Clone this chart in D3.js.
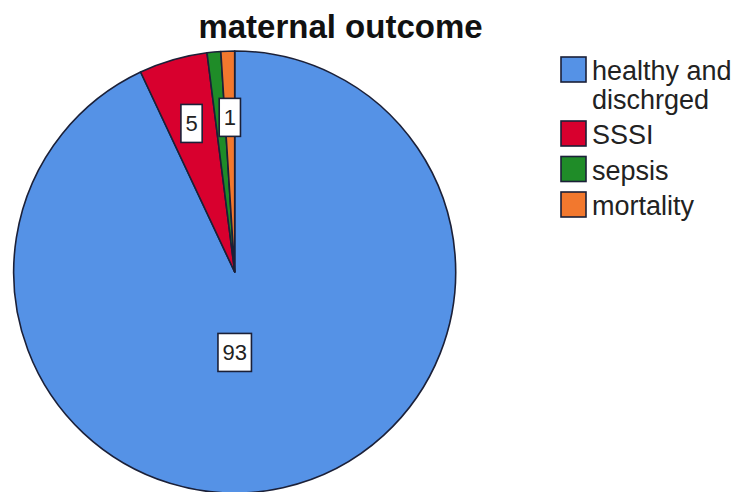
<!DOCTYPE html>
<html>
<head>
<meta charset="utf-8">
<script src="https://cdn.jsdelivr.net/npm/d3@7"></script>
<style>
  html, body { margin: 0; padding: 0; background: #fff; }
  svg { display: block; }
</style>
</head>
<body>
<svg id="chart" width="738" height="492"></svg>
<script>
// ---- data ----
const title = "maternal outcome";
const categories = ["healthy and dischrged", "SSSI", "sepsis", "mortality"];
const legendLines = [["healthy and", "dischrged"], ["SSSI"], ["sepsis"], ["mortality"]];
const values = [93, 5, 1, 1];
const colors = ["#5592e6", "#d8002e", "#1f8c28", "#f2782e"];

// ---- layout ----
const W = 738, H = 492;
const cx = 234.7, cy = 272, R = 221;
const outline = "#1b2038";

const svg = d3.select("#chart");
svg.append("rect").attr("width", W).attr("height", H).attr("fill", "#fff");

svg.append("text")
  .attr("x", 340.5).attr("y", 38)
  .attr("text-anchor", "middle")
  .attr("font-family", "'Liberation Sans', Arial, sans-serif")
  .attr("font-weight", "bold")
  .attr("font-size", 33)
  .attr("fill", "#111")
  .text(title);

const data = categories.map((c, i) => ({ name: c, value: values[i], color: colors[i] }));
const pie = d3.pie().value(d => d.value).sort(null);
const arcs = pie(data);
const arc = d3.arc().innerRadius(0).outerRadius(R);

const g = svg.append("g").attr("transform", `translate(${cx},${cy})`);
g.selectAll("path.slice")
  .data(arcs)
  .join("path")
  .attr("class", "slice")
  .attr("d", arc)
  .attr("fill", d => d.data.color)
  .attr("stroke", outline)
  .attr("stroke-width", 1.6)
  .attr("stroke-linejoin", "round");

// ---- value labels ----
const total = d3.sum(values);
const placed = [];
const labelG = g.append("g");
// process in reverse so later slices win when labels collide
arcs.slice().reverse().forEach(d => {
  const share = d.value / total;
  let lx, ly;
  if (share > 0.5) {
    lx = 0; ly = 0.364 * R;
  } else {
    const a = (d.startAngle + d.endAngle) / 2;
    const rr = 0.7 * R;
    lx = Math.sin(a) * rr; ly = -Math.cos(a) * rr;
  }
  const t = labelG.append("text")
    .attr("x", lx).attr("y", ly + 8)
    .attr("text-anchor", "middle")
    .attr("font-family", "'Liberation Sans', Arial, sans-serif")
    .attr("font-size", 22)
    .attr("fill", "#222")
    .text(d.value);
  const tw = t.node().getComputedTextLength();
  const bw = tw + 9, bh = 38;
  const box = { x0: lx - bw / 2, x1: lx + bw / 2, y0: ly - bh / 2, y1: ly + bh / 2 };
  const hit = placed.some(p => !(box.x1 < p.x0 || box.x0 > p.x1 || box.y1 < p.y0 || box.y0 > p.y1));
  if (hit) { t.remove(); return; }
  placed.push(box);
  labelG.insert("rect", () => t.node())
    .attr("x", box.x0).attr("y", box.y0)
    .attr("width", bw).attr("height", bh)
    .attr("fill", "#fff")
    .attr("stroke", outline)
    .attr("stroke-width", 1.6);
});

// ---- legend ----
const lg = svg.append("g");
let base = 80;
const pitch = 35.5, extraLine = 28.5;
legendLines.forEach((lines, i) => {
  lg.append("rect")
    .attr("x", 561).attr("y", base - 23)
    .attr("width", 25).attr("height", 25)
    .attr("fill", colors[i])
    .attr("stroke", outline)
    .attr("stroke-width", 1.6);
  const t = lg.append("text")
    .attr("x", 592).attr("y", base)
    .attr("font-family", "'Liberation Sans', Arial, sans-serif")
    .attr("font-size", 27)
    .attr("fill", "#222");
  lines.forEach((ln, j) => {
    t.append("tspan").attr("x", 592).attr("y", base + j * extraLine).text(ln);
  });
  base += pitch + extraLine * (lines.length - 1);
});
</script>
</body>
</html>
